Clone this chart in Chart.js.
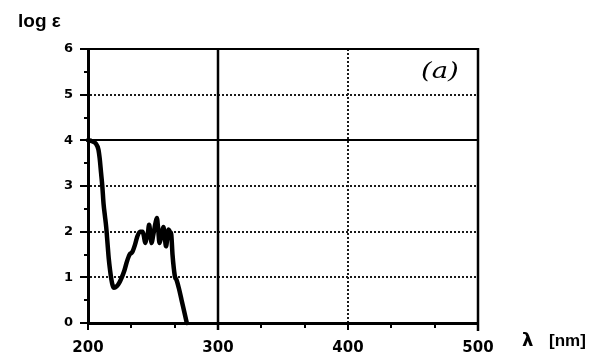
<!DOCTYPE html>
<html>
<head>
<meta charset="utf-8">
<script src="https://cdn.jsdelivr.net/npm/chart.js@4/dist/chart.umd.min.js"></script>
<style>
  html, body { margin: 0; padding: 0; background: #fff; }
  #wrap { width: 590px; height: 356px; }
  canvas { display: block; }
</style>
</head>
<body>
<div id="wrap"><canvas id="spectrum" width="590" height="356"></canvas></div>
<script>
// UV absorption spectrum: wavelength (nm) vs log of molar absorptivity
const wavelength = [200, 203, 206, 208, 209, 210, 211, 212, 213, 214, 215, 216, 217, 218, 219, 220,
  222, 224, 226, 228, 230, 232, 234, 236, 238, 240, 242, 243, 244, 245, 246, 247, 248, 249, 250,
  251, 252, 253, 254, 255, 256, 257, 258, 259, 260, 261, 262, 263, 264, 265, 266, 267, 268, 270,
  272, 274, 276];
const logEpsilon = [4.0, 3.98, 3.93, 3.8, 3.6, 3.3, 3.0, 2.6, 2.35, 2.1, 1.75, 1.4, 1.15, 0.95, 0.82, 0.77,
  0.8, 0.88, 1.0, 1.15, 1.35, 1.5, 1.55, 1.7, 1.9, 2.0, 2.0, 1.9, 1.75, 1.85, 1.95, 2.15, 1.95, 1.75, 1.9,
  2.05, 2.2, 2.3, 2.05, 1.75, 1.85, 2.0, 2.1, 1.9, 1.68, 1.85, 2.05, 2.0, 1.95, 1.5, 1.2, 1.0, 0.95, 0.75,
  0.5, 0.25, 0.0];

const xTickValues = [200, 300, 400, 500];
const yTickValues = [0, 1, 2, 3, 4, 5, 6];
const solidXLines = [300];
const solidYLines = [4];
const yAxisTitle = 'log ε';
const xAxisSymbol = 'λ';
const xAxisUnit = '[nm]';
const panelTag = '(a)';

const INK = '#000';
const DOT = '#1a1a1a';

// Solid reference lines, frame and tick marks, drawn from the chart scales
const framePlugin = {
  id: 'frame',
  beforeDatasetsDraw(chart) {
    const { ctx, chartArea: a, scales: { x, y } } = chart;
    ctx.save();
    ctx.strokeStyle = INK;
    ctx.lineCap = 'butt';
    // solid horizontal lines
    ctx.lineWidth = 2;
    solidYLines.forEach(v => {
      const py = Math.round(y.getPixelForValue(v));
      ctx.beginPath(); ctx.moveTo(a.left, py); ctx.lineTo(a.right, py); ctx.stroke();
    });
    // top frame line
    const topY = Math.round(y.getPixelForValue(yTickValues[yTickValues.length - 1]));
    ctx.beginPath(); ctx.moveTo(a.left - 8, topY); ctx.lineTo(a.right + 1, topY); ctx.stroke();
    // solid vertical lines
    ctx.lineWidth = 2.5;
    solidXLines.forEach(v => {
      const px = Math.round(x.getPixelForValue(v));
      ctx.beginPath(); ctx.moveTo(px, a.top); ctx.lineTo(px, a.bottom + 7); ctx.stroke();
    });
    // right frame line
    const rightX = Math.round(x.getPixelForValue(xTickValues[xTickValues.length - 1]));
    ctx.beginPath(); ctx.moveTo(rightX, a.top - 1); ctx.lineTo(rightX, a.bottom + 8); ctx.stroke();

    // y tick marks (major and half-unit minor), pointing outward
    ctx.lineWidth = 2;
    yTickValues.forEach((v, i) => {
      const py = Math.round(y.getPixelForValue(v));
      ctx.beginPath(); ctx.moveTo(a.left - 8, py); ctx.lineTo(a.left, py); ctx.stroke();
      if (i < yTickValues.length - 1) {
        const pm = Math.round(y.getPixelForValue(v + 0.5));
        ctx.beginPath(); ctx.moveTo(a.left - 4, pm); ctx.lineTo(a.left, pm); ctx.stroke();
      }
    });
    // x tick marks (major and thirds), pointing downward
    xTickValues.forEach((v, i) => {
      const px = Math.round(x.getPixelForValue(v));
      ctx.beginPath(); ctx.moveTo(px, a.bottom); ctx.lineTo(px, a.bottom + 7); ctx.stroke();
      if (i < xTickValues.length - 1) {
        const step = (xTickValues[i + 1] - v) / 3;
        for (let k = 1; k < 3; k++) {
          const pm = Math.round(x.getPixelForValue(v + k * step));
          ctx.beginPath(); ctx.moveTo(pm, a.bottom); ctx.lineTo(pm, a.bottom + 5); ctx.stroke();
        }
      }
    });
    ctx.restore();
  },
  afterDraw(chart) {
    const { ctx, chartArea: a } = chart;
    ctx.save();
    ctx.fillStyle = INK;
    ctx.textBaseline = 'alphabetic';
    // y axis title
    ctx.font = 'bold 19px "Liberation Sans", Arial, sans-serif';
    ctx.fillText(yAxisTitle, 18, 27);
    // x axis title
    ctx.font = 'bold 18px "DejaVu Sans", sans-serif';
    ctx.fillText(xAxisSymbol, a.right + 44, 346);
    ctx.font = 'bold 17px "Liberation Sans", Arial, sans-serif';
    ctx.fillText(xAxisUnit, a.right + 71, 346);
    // panel tag
    ctx.save();
    ctx.translate(a.right - 57, 78);
    ctx.scale(1.25, 1);
    ctx.font = 'italic 22px "DejaVu Serif", serif';
    ctx.fillText(panelTag, 0, 0);
    ctx.restore();
    ctx.restore();
  }
};

new Chart(document.getElementById('spectrum'), {
  type: 'line',
  data: {
    datasets: [{
      data: wavelength.map((w, i) => ({ x: w, y: logEpsilon[i] })),
      borderColor: INK,
      borderWidth: 4.5,
      pointRadius: 0,
      cubicInterpolationMode: 'monotone',
      borderJoinStyle: 'round',
      borderCapStyle: 'round',
      fill: false,
      clip: false
    }]
  },
  options: {
    responsive: false,
    devicePixelRatio: 1,
    animation: false,
    layout: { padding: { left: 0, top: 49, right: 112, bottom: 0 } },
    plugins: { legend: { display: false }, tooltip: { enabled: false }, title: { display: false } },
    scales: {
      x: {
        type: 'linear',
        min: xTickValues[0],
        max: xTickValues[xTickValues.length - 1],
        afterBuildTicks: s => { s.ticks = xTickValues.map(v => ({ value: v })); },
        afterFit: s => { s.height = 33; },
        grid: {
          drawTicks: false,
          lineWidth: 2,
          color: c => (c.tick && (solidXLines.includes(c.tick.value) || c.tick.value === xTickValues[0] || c.tick.value === xTickValues[xTickValues.length - 1])) ? 'rgba(0,0,0,0)' : DOT
        },
        border: { display: true, color: INK, width: 3, dash: [2, 2] },
        ticks: {
          color: INK,
          padding: 16,
          maxRotation: 0,
          font: { family: '"DejaVu Sans", sans-serif', weight: 'bold', size: 15 }
        }
      },
      y: {
        type: 'linear',
        min: yTickValues[0],
        max: yTickValues[yTickValues.length - 1],
        afterBuildTicks: s => { s.ticks = yTickValues.map(v => ({ value: v })); },
        afterFit: s => { s.width = 88; },
        grid: {
          drawTicks: false,
          lineWidth: 2,
          color: c => (c.tick && (solidYLines.includes(c.tick.value) || c.tick.value === yTickValues[0] || c.tick.value === yTickValues[yTickValues.length - 1])) ? 'rgba(0,0,0,0)' : DOT
        },
        border: { display: true, color: INK, width: 3, dash: [2, 2] },
        ticks: {
          color: INK,
          padding: 15,
          font: { family: '"DejaVu Sans", sans-serif', weight: 'bold', size: 13 }
        }
      }
    }
  },
  plugins: [framePlugin]
});
</script>
</body>
</html>
